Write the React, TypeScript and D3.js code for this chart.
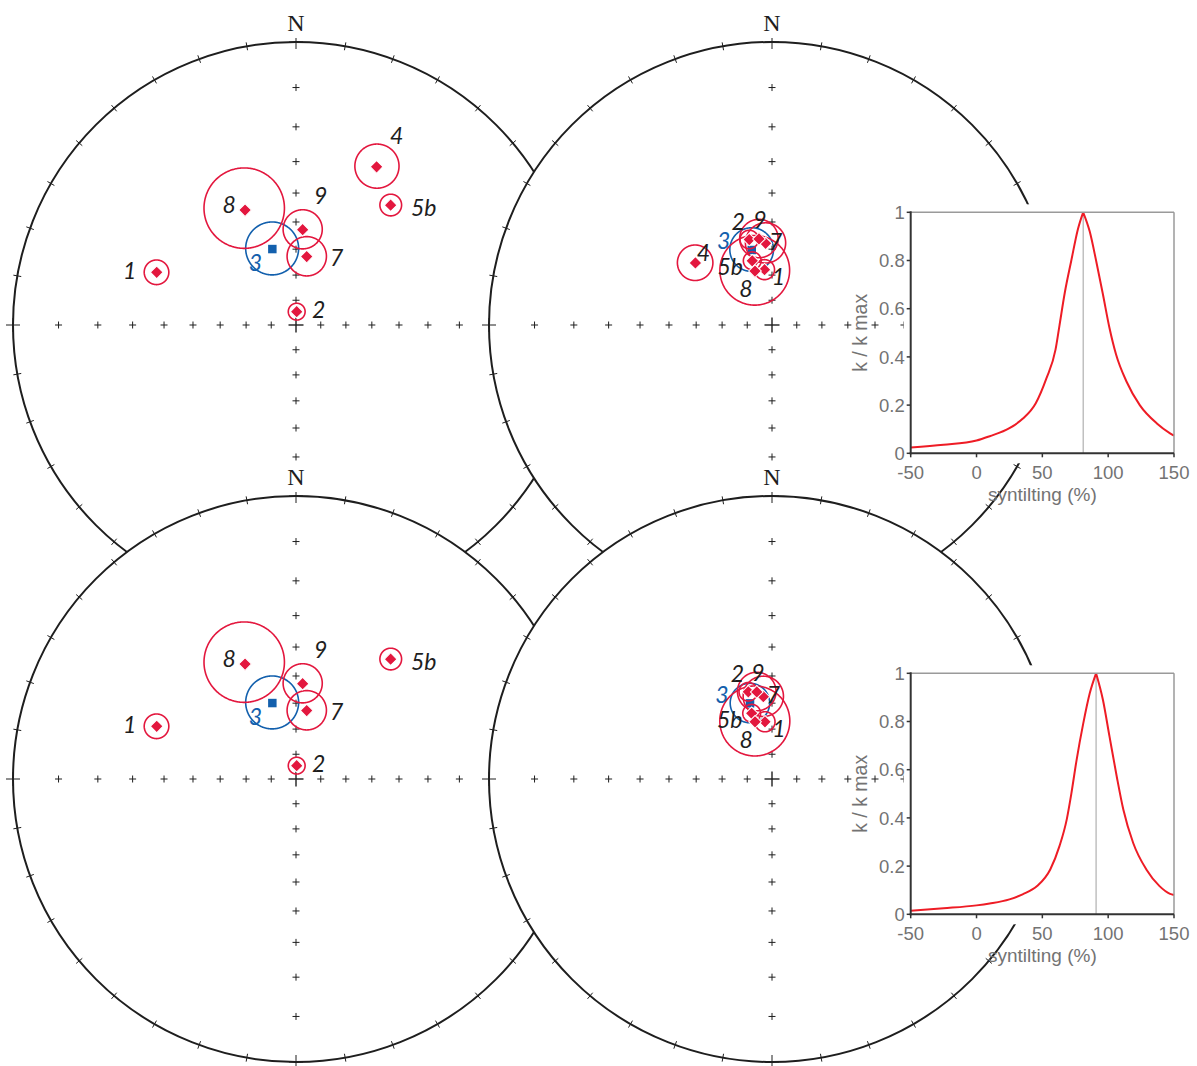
import React from "react";
import * as d3 from "d3";

// site names, in the order used by every array below
const sites = ["1", "2", "3", "4", "5b", "7", "8", "9"];

// in situ directions (declination / inclination, degrees)
const decInSitu = [290.7, 3.0, 342.7, 27.0, 38.3, 8.9, 336.1, 4.0];
const incInSitu = [34.5, 84.6, 58.6, 25.8, 33.3, 62.5, 42.1, 52.7];
const a95InSitu = [3.9, 3.4, 9.9, 6.4, 3.4, 7.5, 13.5, 7.1];

// after 80 % unfolding (all sites)
const decTilt80 = [352.3, 345.1, 344.9, 309.0, 342.9, 355.5, 342.5, 351.4];
const incTilt80 = [67.7, 55.3, 59.3, 51.6, 63.3, 57.7, 67.4, 55.8];
const a95Tilt80 = [3.9, 3.4, 8.2, 6.4, 3.4, 7.5, 13.5, 7.1];

// after 90 % unfolding (site 4 left out)
const decTilt90 = [353.0, 344.8, 343.8, 309.0, 342.8, 354.0, 343.5, 350.1];
const incTilt90 = [67.0, 54.6, 58.9, 51.6, 62.7, 57.4, 66.2, 55.3];
const a95Tilt90 = [3.9, 3.4, 7.4, 6.4, 3.4, 7.5, 13.5, 7.1];

// fold test curves: k / k max against syntilting (%)
const pctAll = [-50, -25, 0, 10, 25, 35, 45, 53, 60, 63, 67, 72, 77, 81, 86, 91, 96, 101, 106, 114, 124, 137, 147, 150];
const kAll = [0.024, 0.035, 0.053, 0.071, 0.104, 0.143, 0.208, 0.31, 0.43, 0.53, 0.665, 0.8, 0.93, 1.0, 0.92, 0.795, 0.66, 0.52, 0.41, 0.297, 0.2, 0.124, 0.083, 0.073];
const pctNo4 = [-50, -25, 0, 10, 25, 35, 46, 56, 63, 68.5, 72, 76, 81, 86, 90.8, 96, 101, 106.5, 111.5, 119, 129, 139, 147, 150];
const kNo4 = [0.015, 0.025, 0.037, 0.045, 0.062, 0.083, 0.117, 0.186, 0.283, 0.393, 0.5, 0.64, 0.79, 0.917, 1.0, 0.89, 0.738, 0.572, 0.435, 0.296, 0.186, 0.117, 0.085, 0.08];

const xTicks = [-50, 0, 50, 100, 150];
const yTicks = [0, 0.2, 0.4, 0.6, 0.8, 1];
const incTicks = [10, 20, 30, 40, 50, 60, 70, 80];

// label offsets from the projected point
const leftOffsets: Record<string, [number, number]> = {
  "1": [-27, -2], "2": [22, -2], "3": [-17, 14], "4": [20, -31],
  "5b": [33, 3], "7": [30, 1], "8": [-16, -5], "9": [18, -34],
};
const rightOffsets: Record<string, [number, number]> = {
  "1": [14, 7], "2": [-11, -18], "3": [-28, -9], "4": [8, -10],
  "5b": [-22, 6], "7": [10, -2], "8": [-9, 18], "9": [1, -19],
};

const R = 283;
const RED = "#e3173e";
const BLUE = "#1360ad";
const INK = "#1e1e1e";

type PanelProps = {
  cx: number; cy: number;
  dec: number[]; inc: number[]; a95: number[];
  omit: string[];
  offsets: Record<string, [number, number]>;
};

const Stereonet = ({ cx, cy, dec, inc, a95, omit, offsets }: PanelProps) => {
  // Wulff net, lower hemisphere: lat = inclination, lon = 180 - declination
  const projection = d3.geoStereographic().scale(R).translate([cx, cy]).rotate([0, -90]);
  const path = d3.geoPath(projection);
  const ll = (d: number, i: number): [number, number] => [180 - d, i];

  const ticks = d3.range(0, 360, 10).map((az) => {
    const [px, py] = projection(ll(az, 0)) as [number, number];
    const ux = (px - cx) / R, uy = (py - cy) / R;
    const big = az % 90 === 0;
    const a = big ? 7 : 4;
    return { px, py, ux, uy, a, big, az };
  });

  const crosses: { x: number; y: number; a: number }[] = [];
  [0, 90, 180, 270].forEach((az) =>
    incTicks.forEach((i) => {
      const [x, y] = projection(ll(az, i)) as [number, number];
      crosses.push({ x, y, a: 3.5 });
    })
  );
  crosses.push({ x: cx, y: cy, a: 7.5 });

  const idx = sites.map((s, i) => i).filter((i) => !omit.includes(sites[i]));
  const red = idx.filter((i) => sites[i] !== "3");
  const blue = idx.filter((i) => sites[i] === "3");
  const circleOf = (i: number) =>
    path(d3.geoCircle().center(ll(dec[i], inc[i])).radius(a95[i]).precision(1)()) || "";
  const diamond = d3.symbol().type(d3.symbolSquare).size(80)() || "";
  const square = d3.symbol().type(d3.symbolSquare).size(72)() || "";

  return (
    <g>
      <circle cx={cx} cy={cy} r={R} fill="#fff" stroke={INK} strokeWidth={2} />
      {ticks.map((t) => (
        <g key={t.az} stroke={INK} strokeWidth={1}>
          <line x1={t.px - t.ux * t.a} y1={t.py - t.uy * t.a} x2={t.px + t.ux * t.a} y2={t.py + t.uy * t.a} />
          {t.big && (
            <line x1={t.px - t.uy * t.a} y1={t.py + t.ux * t.a} x2={t.px + t.uy * t.a} y2={t.py - t.ux * t.a} />
          )}
        </g>
      ))}
      {crosses.map((c, k) => (
        <g key={k} stroke={INK} strokeWidth={c.a > 4 ? 1.4 : 1}>
          <line x1={c.x - c.a} y1={c.y} x2={c.x + c.a} y2={c.y} />
          <line x1={c.x} y1={c.y - c.a} x2={c.x} y2={c.y + c.a} />
        </g>
      ))}
      <rect x={cx - 11} y={cy - R - 31} width={22} height={27} fill="#fff" />
      <text x={cx} y={cy - R - 11} textAnchor="middle" fontFamily="'Liberation Serif', serif" fontSize={24} fill={INK}>
        N
      </text>

      {blue.map((i) => (
        <path key={"b" + i} d={circleOf(i)} fill="none" stroke={BLUE} strokeWidth={1.6} />
      ))}
      {blue.map((i) => {
        const [x, y] = projection(ll(dec[i], inc[i])) as [number, number];
        return <path key={"bs" + i} d={square} transform={`translate(${x},${y})`} fill={BLUE} />;
      })}
      {red.map((i) => (
        <path key={"c" + i} d={circleOf(i)} fill="none" stroke={RED} strokeWidth={1.6} />
      ))}
      {red.map((i) => {
        const [x, y] = projection(ll(dec[i], inc[i])) as [number, number];
        return (
          <path key={"d" + i} d={diamond} transform={`translate(${x},${y}) rotate(45)`} fill={RED} stroke="#fff" strokeWidth={1} />
        );
      })}
      {idx.map((i) => {
        const [x, y] = projection(ll(dec[i], inc[i])) as [number, number];
        const [ox, oy] = offsets[sites[i]];
        return (
          <text
            key={"t" + i}
            x={x + ox}
            y={y + oy}
            dy="0.36em"
            textAnchor="middle"
            fontFamily="Lato, 'Open Sans', sans-serif"
            fontStyle="italic"
            fontSize={23}
            fill={sites[i] === "3" ? BLUE : INK}
          >
            {sites[i]}
          </text>
        );
      })}
    </g>
  );
};

type InsetProps = { x0: number; y0: number; pct: number[]; k: number[] };

const FoldTest = ({ x0, y0, pct, k }: InsetProps) => {
  const w = 263.3, h = 241;
  const x = d3.scaleLinear().domain([-50, 150]).range([x0, x0 + w]);
  const y = d3.scaleLinear().domain([0, 1]).range([y0 + h, y0]);
  const top = d3.maxIndex(k);
  const peak = pct[top];
  const pts = pct.map((p, i) => [p, k[i]] as [number, number]);
  const line = d3
    .line<[number, number]>()
    .x((d) => x(d[0]))
    .y((d) => y(d[1]))
    .curve(d3.curveMonotoneX);
  // two branches so the maximum stays a sharp peak
  const curve = (line(pts.slice(0, top + 1)) || "") + (line(pts.slice(top)) || "");
  const gray = "#737373";
  const font = "'Liberation Sans', Arial, sans-serif";
  return (
    <g>
      <rect x={x0 - 7} y={y0 - 8} width={w + 30} height={h + 18} fill="#fff" />
      <line x1={x(peak)} x2={x(peak)} y1={y0} y2={y0 + h} stroke="#a0a0a0" strokeWidth={1} />
      <path d={curve} fill="none" stroke="#ee1c25" strokeWidth={2} />
      <line x1={x0} x2={x0 + w} y1={y0} y2={y0} stroke="#9a9a9a" strokeWidth={1.5} />
      <line x1={x0 + w} x2={x0 + w} y1={y0} y2={y0 + h} stroke="#9a9a9a" strokeWidth={1.5} />
      <line x1={x0} x2={x0} y1={y0 - 1} y2={y0 + h + 1} stroke="#333" strokeWidth={2} />
      <line x1={x0 - 1} x2={x0 + w} y1={y0 + h} y2={y0 + h} stroke="#333" strokeWidth={2} />
      {yTicks.map((t) => (
        <g key={"y" + t}>
          <line x1={x0 - 4} x2={x0} y1={y(t)} y2={y(t)} stroke="#333" strokeWidth={1.5} />
          <text x={x0 - 6} y={y(t)} dy="0.36em" textAnchor="end" fontFamily={font} fontSize={18.5} fill={gray}>
            {t}
          </text>
        </g>
      ))}
      {xTicks.map((t) => (
        <g key={"x" + t}>
          <line x1={x(t)} x2={x(t)} y1={y0 + h} y2={y0 + h + 4} stroke="#333" strokeWidth={1.5} />
          <text x={x(t)} y={y0 + h + 19} dy="0.36em" textAnchor="middle" fontFamily={font} fontSize={18.5} fill={gray}>
            {t}
          </text>
        </g>
      ))}
      <text x={x0 + w / 2} y={y0 + h + 48} textAnchor="middle" fontFamily={font} fontSize={19} fill={gray}>
        syntilting (%)
      </text>
      <text
        transform={`translate(${x0 - 51},${y0 + h / 2}) rotate(-90)`}
        dy="0.36em"
        textAnchor="middle"
        fontFamily={font}
        fontSize={19.5}
        fill={gray}
      >
        k / k max
      </text>
    </g>
  );
};

export default function App() {
  return (
    <div style={{ position: "absolute", left: 0, top: 0 }}>
      <svg width={1197} height={1066} style={{ display: "block", background: "#fff" }}>
        <Stereonet cx={296} cy={325} dec={decInSitu} inc={incInSitu} a95={a95InSitu} omit={[]} offsets={leftOffsets} />
        <Stereonet cx={772} cy={325} dec={decTilt80} inc={incTilt80} a95={a95Tilt80} omit={[]} offsets={rightOffsets} />
        <Stereonet cx={296} cy={779} dec={decInSitu} inc={incInSitu} a95={a95InSitu} omit={["4"]} offsets={leftOffsets} />
        <Stereonet cx={772} cy={779} dec={decTilt90} inc={incTilt90} a95={a95Tilt90} omit={["4"]} offsets={rightOffsets} />
        <FoldTest x0={910.7} y0={212.3} pct={pctAll} k={kAll} />
        <FoldTest x0={910.7} y0={673.3} pct={pctNo4} k={kNo4} />
      </svg>
    </div>
  );
}
